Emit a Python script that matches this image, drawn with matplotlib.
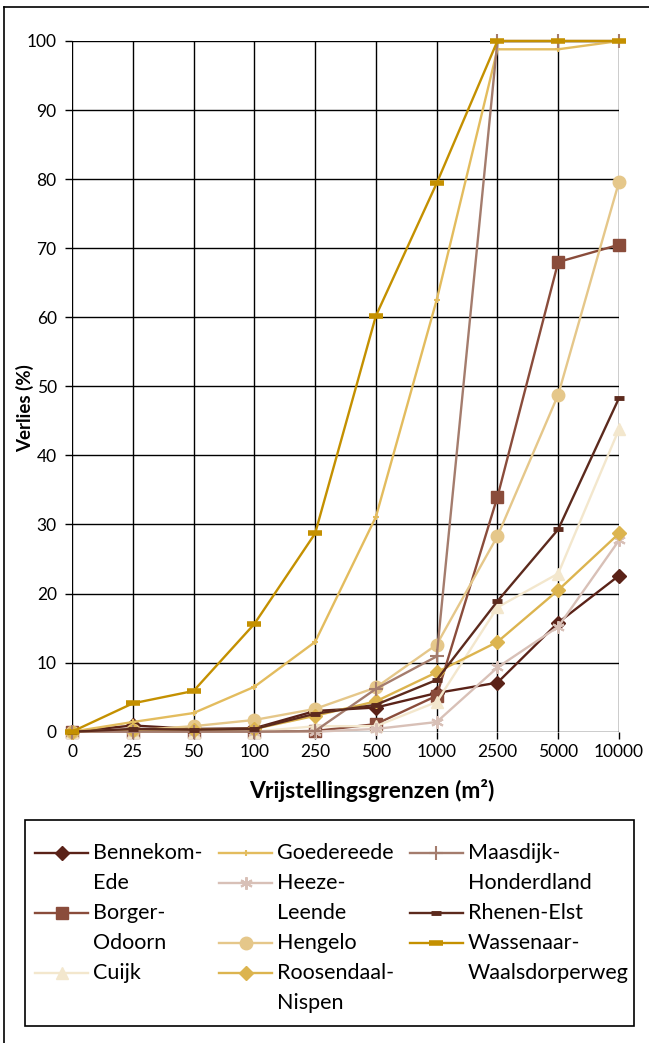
import matplotlib
matplotlib.use("Agg")
import matplotlib.pyplot as plt
from matplotlib.lines import Line2D
from matplotlib.patches import Rectangle
import numpy as np

plt.rcParams['font.family'] = ['Lato', 'DejaVu Sans']

# Exemption thresholds (m²) shown as equally spaced categories
thresholds = ['0', '25', '50', '100', '250', '500', '1000', '2500', '5000', '10000']

# Loss (%) per municipality
bennekom_ede = [0, 0.9, 0.4, 0.5, 3.0, 3.5, 5.6, 7.1, 15.8, 22.6]
borger_odoorn = [0, 0, 0, 0, 0.1, 1.1, 5.2, 34.0, 68.0, 70.5]
cuijk = [0, 0, 0, 0, 0.8, 0.8, 4.3, 18.0, 22.9, 43.8]
goedereede = [0, 1.4, 2.7, 6.5, 13.0, 31.1, 62.5, 98.8, 98.8, 100]
heeze_leende = [0, 0, 0, 0, 0, 0.4, 1.4, 9.3, 15.2, 27.7]
hengelo = [0, 0.2, 0.8, 1.7, 3.3, 6.4, 12.6, 28.3, 48.8, 79.6]
roosendaal_nispen = [0, 0.3, 0.3, 0.4, 2.3, 4.4, 8.6, 13.0, 20.5, 28.7]
maasdijk_honderdland = [0, 0, 0, 0, 0.1, 6.2, 10.9, 100, 100, 100]
rhenen_elst = [0, 0.4, 0.3, 0.4, 2.6, 3.9, 7.5, 18.9, 29.3, 48.3]
wassenaar = [0, 4.1, 5.9, 15.6, 28.7, 60.2, 79.4, 100, 100, 100]

labels = ['Bennekom-\nEde', 'Borger-\nOdoorn', 'Cuijk', 'Goedereede',
          'Heeze-\nLeende', 'Hengelo', 'Roosendaal-\nNispen',
          'Maasdijk-\nHonderdland', 'Rhenen-Elst', 'Wassenaar-\nWaalsdorperweg']

colors = ['#5a2218', '#8a4c3b', '#f3e7cd', '#e3bc5e', '#d8c0b7',
          '#e5c78a', '#dcb44f', '#a47c6d', '#5c2a1d', '#c49000']

markers = [
    dict(marker='D', ms=7),
    dict(marker='s', ms=8),
    dict(marker='^', ms=9),
    dict(marker='+', ms=4, mew=1.5),
    dict(marker=(6, 2, 0), ms=9, mew=1.5),
    dict(marker='o', ms=9),
    dict(marker='D', ms=7),
    dict(marker='+', ms=10, mew=1.5),
    dict(marker='_', ms=7, mew=3.5),
    dict(marker='_', ms=10, mew=4),
]

series = [bennekom_ede, borger_odoorn, cuijk, goedereede, heeze_leende,
          hengelo, roosendaal_nispen, maasdijk_honderdland, rhenen_elst, wassenaar]

W, H = 649, 1043
fig = plt.figure(figsize=(W / 100, H / 100), dpi=100)
ax = fig.add_axes([72 / W, 1 - 731.7 / H, (619 - 72) / W, (731.7 - 41) / H])


def fx(px):
    return px / W


def fy(py):
    return 1 - py / H


x = np.arange(len(thresholds))
for vals, c, mk, lab in zip(series, colors, markers, labels):
    ax.plot(x, vals, lw=1.7, color=c, label=lab, clip_on=False, **mk)

ax.set_xlim(0, len(thresholds) - 1)
ax.set_ylim(0, 100)
ax.set_xticks(x)
ax.set_xticklabels(thresholds)
ax.set_yticks(np.arange(0, 101, 10))
ax.grid(True, color='black', lw=1.0)
ax.set_axisbelow(True)
for s in ax.spines.values():
    s.set_visible(False)
ax.tick_params(axis='both', direction='out', length=5, width=1, color='black',
               labelsize=12.5, pad=4)
ax.tick_params(axis='y', pad=6)

fig.text(fx(372), fy(790), 'Vrijstellingsgrenzen (m²)', fontsize=16.5,
         fontweight='bold', ha='center', va='center')
fig.text(fx(25), fy(408), 'Verlies (%)', fontsize=13.5, fontweight='bold',
         ha='center', va='center', rotation=90)

# Legend drawn by hand: three columns, handle aligned with the first text line
columns = [
    (35, [0, 1, 2]),
    (219, [3, 4, 5, 6]),
    (410, [7, 8, 9]),
]
pitch = 30
top = 853
handle_len = 53
for x0, idxs in columns:
    y = top
    for i in idxs:
        fig.add_artist(Line2D([fx(x0), fx(x0 + handle_len)], [fy(y), fy(y)],
                              transform=fig.transFigure, lw=1.7, color=colors[i]))
        fig.add_artist(Line2D([fx(x0 + handle_len / 2)], [fy(y)],
                              transform=fig.transFigure, linestyle='none',
                              color=colors[i], **markers[i]))
        lines = labels[i].split('\n')
        for k, line in enumerate(lines):
            fig.text(fx(x0 + handle_len + 5), fy(y + k * pitch), line,
                     fontsize=15.5, ha='left', va='center')
        y += pitch * len(lines)

fig.patches.append(Rectangle((fx(25), fy(1026)), (634 - 25) / W, (1026 - 820) / H,
                             transform=fig.transFigure, fill=False,
                             edgecolor='black', lw=1.2))

# Outer frame lines (left and top)
fig.add_artist(Line2D([fx(4), fx(4)], [0, fy(7)], transform=fig.transFigure,
                      color='black', lw=1.2))
fig.add_artist(Line2D([fx(4), 1], [fy(7), fy(7)], transform=fig.transFigure,
                      color='black', lw=1.2))

fig.savefig('out.png', dpi=100)
